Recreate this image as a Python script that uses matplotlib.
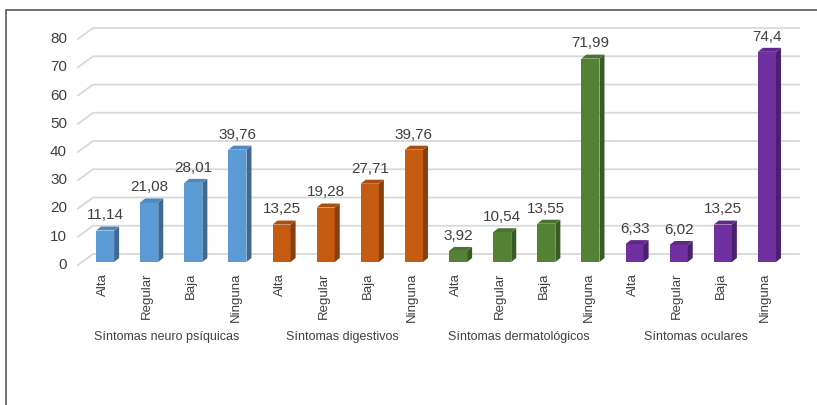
import matplotlib
matplotlib.use("Agg")
import matplotlib.pyplot as plt
from matplotlib.patches import Polygon
from matplotlib.lines import Line2D

plt.rcParams['font.family'] = ['Liberation Sans', 'DejaVu Sans']

# ---- data ----
groups = ["Síntomas neuro psíquicas", "Síntomas digestivos",
          "Síntomas dermatológicos", "Síntomas oculares"]
levels = ["Alta", "Regular", "Baja", "Ninguna"]
neuro = [11.14, 21.08, 28.01, 39.76]
digestivos = [13.25, 19.28, 27.71, 39.76]
dermato = [3.92, 10.54, 13.55, 71.99]
oculares = [6.33, 6.02, 13.25, 74.4]
series = [neuro, digestivos, dermato, oculares]
y_ticks = [0, 10, 20, 30, 40, 50, 60, 70, 80]

front_colors = ["#5B9BD5", "#C55A11", "#548235", "#7030A0"]
side_colors = ["#3D6A94", "#86400E", "#385A24", "#4B2070"]
top_colors = ["#4F88BE", "#A94D10", "#4A742F", "#5E2889"]

W, H = 817, 405
fig = plt.figure(figsize=(W / 100, H / 100), dpi=100)

# axes placement in pixels
ax_left, ax_right = 83, 789
ax_base, ax_top = 262, 36
ax = fig.add_axes([ax_left / W, (H - ax_base) / H,
                   (ax_right - ax_left) / W, (ax_base - ax_top) / H])
n = len(groups) * len(levels)
ax.set_xlim(-0.5, n - 0.5)
ax.set_ylim(0, 80)
ax.axis("off")

ux = n / (ax_right - ax_left)     # data x per pixel
uy = 80 / (ax_base - ax_top)      # data y per pixel

def px_x(p):
    return (p - ax_left) * ux - 0.5

text_color = "#404040"

# back wall gridlines with slanted floor edge
for v in y_ticks:
    yf = v - 3 * uy
    yb = v + 8 * uy
    ax.add_line(Line2D([px_x(78), px_x(93), px_x(799)], [yf, yb, yb],
                       color="#D9D9D9", lw=1.3, clip_on=False, zorder=1))
    ax.text(px_x(67), yf, str(v), ha="right", va="center",
            fontsize=11, color=text_color)

# 3D-looking bars
bw = 0.41
dx = 5 * ux
dy = 4 * uy
for g, vals in enumerate(series):
    for k, v in enumerate(vals):
        i = g * len(levels) + k
        x0, x1 = i - bw / 2, i + bw / 2
        ax.bar(i, v, width=bw, color=front_colors[g], zorder=3, linewidth=0)
        ax.add_patch(Polygon([(x1, 0), (x1 + dx, dy), (x1 + dx, v + dy), (x1, v)],
                             closed=True, fc=side_colors[g], ec="none", zorder=3))
        ax.add_patch(Polygon([(x0, v), (x1, v), (x1 + dx, v + dy), (x0 + dx, v + dy)],
                             closed=True, fc=top_colors[g], ec="none", zorder=3))
        ax.annotate(f"{v:g}".replace(".", ","), xy=(i, v + dy),
                    xytext=(0, 3), textcoords="offset points",
                    ha="center", va="bottom", fontsize=11, color=text_color,
                    zorder=4)
        ax.annotate(levels[k], xy=(i, 0), xytext=(-2, -11), textcoords="offset pixels",
                    rotation=90, ha="center", va="top", fontsize=9.5,
                    color=text_color, annotation_clip=False)
    gc = g * len(levels) + (len(levels) - 1) / 2
    ax.annotate(groups[g], xy=(gc, 0), xytext=(-5, -75), textcoords="offset pixels",
                ha="center", va="center", fontsize=9, color=text_color,
                annotation_clip=False)

# outer frame (open on right and bottom)
fig.add_artist(Line2D([6 / W, 6 / W, 1.0], [0.0, 1 - 10 / H, 1 - 10 / H],
                      transform=fig.transFigure, color="#595959", lw=1.2))

fig.savefig("out.png", dpi=100, facecolor="white")
